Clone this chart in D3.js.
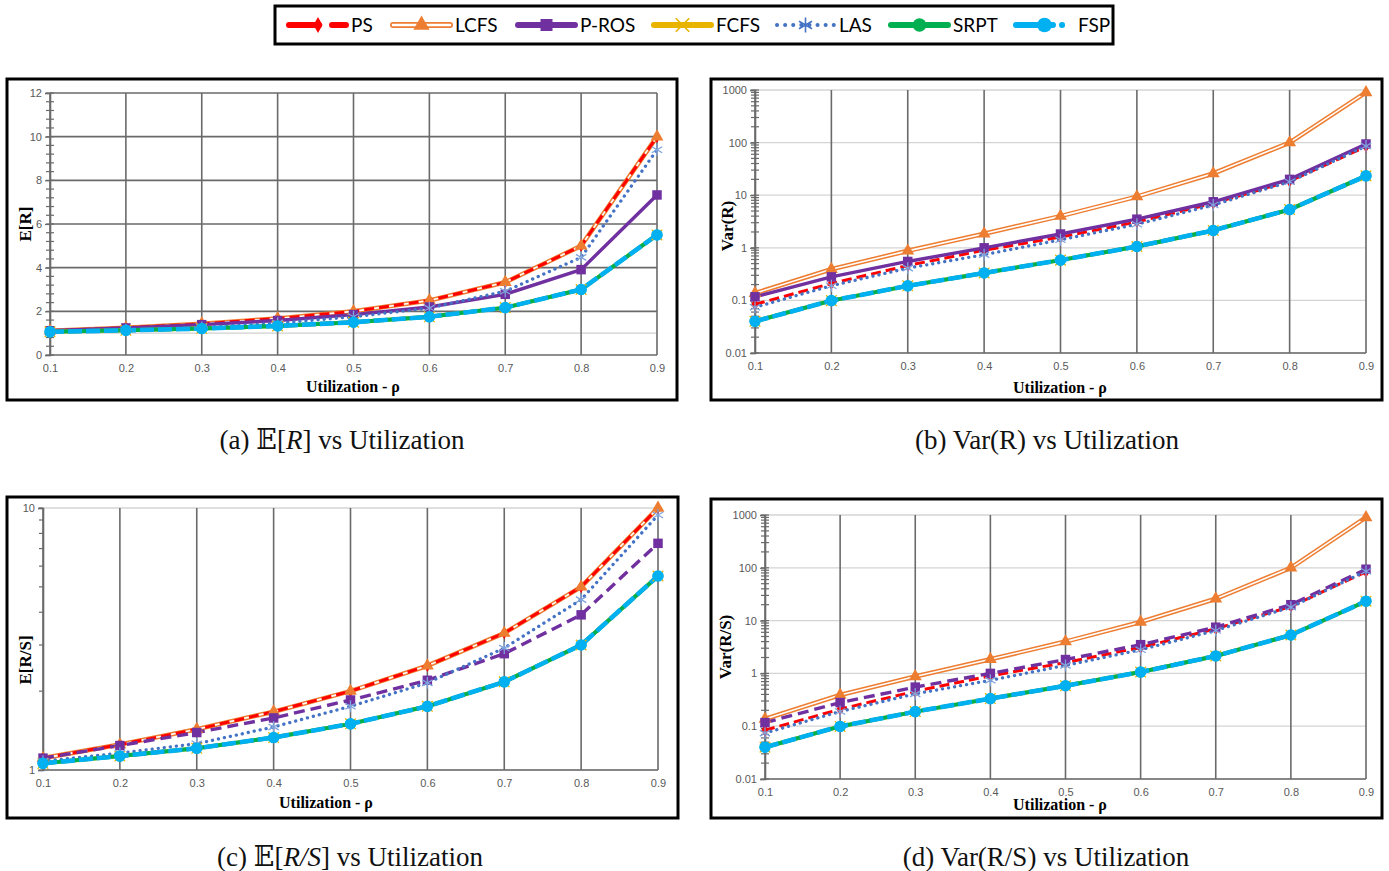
<!DOCTYPE html>
<html><head><meta charset="utf-8">
<script src="https://cdn.jsdelivr.net/npm/d3@7"></script>
<style>body{margin:0;background:#fff}</style>
</head><body>
<svg id="chart" width="1389" height="871"></svg>
<script>
// ---------------- DATA ----------------
const rho = [0.1, 0.2, 0.3, 0.4, 0.5, 0.6, 0.7, 0.8, 0.9];
const seriesNames = ["PS", "LCFS", "P-ROS", "FCFS", "LAS", "SRPT", "FSP"];

// Mean response time E[R] (= E[R/S])
const meanPS   = [1.11, 1.25, 1.43, 1.67, 2.0, 2.5, 3.33, 5.0, 10.0];
const meanLCFS = [1.11, 1.25, 1.43, 1.67, 2.0, 2.5, 3.33, 5.0, 10.0];
const meanPROS = [1.11, 1.24, 1.39, 1.58, 1.85, 2.2, 2.78, 3.91, 7.33];
const meanFCFS = [1.06, 1.13, 1.21, 1.33, 1.5, 1.75, 2.17, 3.0, 5.5];
const meanLAS  = [1.08, 1.16, 1.26, 1.46, 1.75, 2.15, 2.92, 4.47, 9.4];
const meanSRPT = [1.06, 1.13, 1.21, 1.33, 1.5, 1.75, 2.17, 3.0, 5.5];
const meanFSP  = [1.06, 1.13, 1.21, 1.33, 1.5, 1.75, 2.17, 3.0, 5.5];

// Variance Var(R) (= Var(R/S))
const varPS   = [0.084, 0.21, 0.46, 0.9, 1.6, 3.1, 7.0, 18.5, 84];
const varLCFS = [0.137, 0.39, 0.875, 1.85, 4.0, 9.4, 25.9, 100, 900];
const varPROS = [0.117, 0.28, 0.55, 1.0, 1.83, 3.5, 7.5, 20, 94];
const varFCFS = [0.04, 0.099, 0.189, 0.333, 0.583, 1.06, 2.14, 5.33, 23.3];
const varLAS  = [0.074, 0.19, 0.41, 0.74, 1.42, 2.8, 6.5, 18, 86];
const varSRPT = [0.04, 0.099, 0.189, 0.333, 0.583, 1.06, 2.14, 5.33, 23.3];
const varFSP  = [0.04, 0.099, 0.189, 0.333, 0.583, 1.06, 2.14, 5.33, 23.3];

const meanTicks = [0, 2, 4, 6, 8, 10, 12];
const varTicks = [0.01, 0.1, 1, 10, 100, 1000];
const ratioTicks = [1, 10];
const xTitle = "Utilization - ρ";

// ---------------- STYLE ----------------
const meanData = [meanPS, meanLCFS, meanPROS, meanFCFS, meanLAS, meanSRPT, meanFSP];
const varData  = [varPS, varLCFS, varPROS, varFCFS, varLAS, varSRPT, varFSP];

const sty = {
  "PS":    {color:"#FF0000", w:3,   dash:"10,5", sym:d3.symbolDiamond, size:45},
  "LCFS":  {color:"#ED7D31", w:4.6, double:true, sym:d3.symbolTriangle, size:72},
  "P-ROS": {color:"#7030A0", w:3.4, sym:d3.symbolSquare, size:90},
  "FCFS":  {color:"#E8B400", w:4,   sym:d3.symbolTimes, size:75, stroke:true},
  "LAS":   {color:"#4472C4", w:3.3, dash:"0.1,6", cap:"round", sym:d3.symbolAsterisk, size:100, stroke:true, mcolor:"#7FA3DC"},
  "SRPT":  {color:"#00B050", w:4,   sym:d3.symbolCircle, size:90},
  "FSP":   {color:"#00B0F0", w:4.6, dash:"14,4", sym:d3.symbolCircle, size:105}
};
const drawOrder = ["LCFS","PS","P-ROS","FCFS","LAS","SRPT","FSP"];
const markerOrder = ["PS","LCFS","P-ROS","FCFS","LAS","SRPT","FSP"];

const svg = d3.select("#chart");
svg.append("rect").attr("width",1389).attr("height",871).attr("fill","#fff");

const tickFont = "'Liberation Sans', Arial, sans-serif";
const serif = "'Liberation Serif', 'Times New Roman', serif";

const panels = [
  {key:"a", type:"lin", domain:[0,12], ticks:meanTicks, data:meanData, ylabel:"E[R]", prosDash:false,
   frame:[7,79,677,400], x0:50, x1:657, yTop:93, yBot:355, xt:[353,387], yl:[25,224]},
  {key:"b", type:"log", domain:[0.01,1000], ticks:varTicks, data:varData, ylabel:"Var(R)", prosDash:false,
   frame:[711,79,1382,400], x0:755, x1:1366, yTop:90, yBot:353, xt:[1060,388], yl:[727,226]},
  {key:"c", type:"log", domain:[1,10], ticks:ratioTicks, data:meanData, ylabel:"E[R/S]", prosDash:true, leftMinor:true,
   frame:[7,497,678,818], x0:43, x1:658, yTop:508, yBot:770, xt:[326,803], yl:[25,660]},
  {key:"d", type:"log", domain:[0.01,1000], ticks:varTicks, data:varData, ylabel:"Var(R/S)", prosDash:true,
   frame:[711,499,1382,818], x0:765, x1:1366, yTop:515, yBot:779, xt:[1060,805], yl:[725,647]}
];

function drawPanel(p){
  const g = svg.append("g");
  const [fx0,fy0,fx1,fy1] = p.frame;
  g.append("rect").attr("x",fx0).attr("y",fy0).attr("width",fx1-fx0).attr("height",fy1-fy0)
    .attr("fill","#fff").attr("stroke","#000").attr("stroke-width",3);
  const x = d3.scaleLinear().domain([rho[0], rho[rho.length-1]]).range([p.x0, p.x1]);
  const y = (p.type==="lin" ? d3.scaleLinear() : d3.scaleLog()).domain(p.domain).range([p.yBot, p.yTop]);

  // horizontal gridlines
  if (p.type==="lin"){
    g.append("line").attr("x1",p.x0).attr("x2",p.x1).attr("y1",y(1)).attr("y2",y(1))
      .attr("stroke","#d0d0d0").attr("stroke-width",1.2);
    p.ticks.forEach(t=>{ if(t>0) g.append("line").attr("x1",p.x0).attr("x2",p.x1).attr("y1",y(t)).attr("y2",y(t))
      .attr("stroke","#6a6a6a").attr("stroke-width",1.6); });
  } else {
    p.ticks.forEach(t=>{ g.append("line").attr("x1",p.x0).attr("x2",p.x1).attr("y1",y(t)).attr("y2",y(t))
      .attr("stroke","#d4d4d4").attr("stroke-width",1.3); });
  }
  // vertical gridlines
  rho.forEach(r=>{ g.append("line").attr("x1",x(r)).attr("x2",x(r)).attr("y1",p.yTop).attr("y2",p.yBot)
      .attr("stroke","#6a6a6a").attr("stroke-width",1.6); });
  // bottom axis line
  g.append("line").attr("x1",p.x0).attr("x2",p.x1).attr("y1",p.yBot).attr("y2",p.yBot)
    .attr("stroke","#6a6a6a").attr("stroke-width",1.6);

  // y axis with ticks
  let minor = [];
  if (p.type==="lin"){ for(let v=0; v<=12.001; v+=0.4) minor.push(+v.toFixed(1)); }
  else { for(let e=Math.log10(p.domain[0]); e<Math.log10(p.domain[1]); e++) for(let k=1;k<10;k++) minor.push(k*Math.pow(10,e)); minor.push(p.domain[1]); }
  const yAxis = d3.axisLeft(y).tickValues(p.ticks)
    .tickFormat(p.type==="lin" ? d3.format("d") : d3.format("~g")).tickSize(5).tickPadding(3);
  const ax = g.append("g").attr("transform",`translate(${p.x0},0)`).call(yAxis);
  ax.select(".domain").attr("stroke","#6a6a6a").attr("stroke-width",1.6);
  ax.selectAll(".tick line").attr("stroke","#6a6a6a").attr("stroke-width",1.2);
  ax.selectAll("text").attr("font-family",tickFont).attr("font-size",11).attr("fill","#595959");
  minor.forEach(v=>{
    g.append("line").attr("x1",p.x0-4).attr("x2",p.leftMinor? p.x0 : p.x0+4).attr("y1",y(v)).attr("y2",y(v))
      .attr("stroke","#6a6a6a").attr("stroke-width",1.2);
  });

  // x axis labels
  const xAxis = d3.axisBottom(x).tickValues(rho).tickFormat(d3.format(".1f")).tickSize(0).tickPadding(9);
  const xa = g.append("g").attr("transform",`translate(0,${p.yBot})`).call(xAxis);
  xa.select(".domain").remove();
  xa.selectAll("text").attr("font-family",tickFont).attr("font-size",11).attr("fill","#595959");

  // titles
  g.append("text").attr("x",p.xt[0]).attr("y",p.xt[1]+5).attr("text-anchor","middle")
    .attr("font-family",serif).attr("font-weight","bold").attr("font-size",16).text(xTitle);
  g.append("text").attr("transform",`translate(${p.yl[0]+6},${p.yl[1]}) rotate(-90)`).attr("text-anchor","middle")
    .attr("font-family",serif).attr("font-weight","bold").attr("font-size",17).text(p.ylabel);

  // series
  const line = d3.line().x((d,i)=>x(rho[i])).y(d=>y(d));
  drawOrder.forEach(name=>{
    const s = sty[name]; const vals = p.data[seriesNames.indexOf(name)];
    if (s.double){
      g.append("path").attr("d",line(vals)).attr("fill","none").attr("stroke",s.color).attr("stroke-width",s.w);
      g.append("path").attr("d",line(vals)).attr("fill","none").attr("stroke","#fff").attr("stroke-width",1.6);
    } else {
      let dash = s.dash || null;
      if (name==="P-ROS" && p.prosDash) dash = "11,6";
      g.append("path").attr("d",line(vals)).attr("fill","none").attr("stroke",s.color)
        .attr("stroke-width",s.w).attr("stroke-dasharray",dash).attr("stroke-linecap",s.cap||"butt")
        .attr("stroke-linejoin","round");
    }
  });
  markerOrder.forEach(name=>{
    const s = sty[name]; const vals = p.data[seriesNames.indexOf(name)];
    const sym = d3.symbol().type(s.sym).size(s.size);
    vals.forEach((v,i)=>{
      const m = g.append("path").attr("d",sym()).attr("transform",`translate(${x(rho[i])},${y(v)})`);
      if (s.stroke) m.attr("fill","none").attr("stroke",s.mcolor||s.color).attr("stroke-width",1.3);
      else m.attr("fill",s.color);
    });
  });
}
panels.forEach(drawPanel);

// captions
const captions = [
  {x:342, y:449, parts:[["(a) ",0],["𝔼",0],["[",0],["R",1],["] vs Utilization",0]]},
  {x:1047, y:449, parts:[["(b) Var(R) vs Utilization",0]]},
  {x:350, y:866, parts:[["(c) ",0],["𝔼",0],["[",0],["R/S",1],["] vs Utilization",0]]},
  {x:1046, y:866, parts:[["(d) Var(R/S) vs Utilization",0]]}
];
captions.forEach(c=>{
  const t = svg.append("text").attr("x",c.x).attr("y",c.y).attr("text-anchor","middle")
    .attr("font-family",serif).attr("font-size",27).attr("fill","#111");
  c.parts.forEach(([txt,it])=>{
    const ts = t.append("tspan").text(txt);
    if (it) ts.attr("font-style","italic");
    if (txt==="𝔼") ts.attr("font-family","'DejaVu Serif','DejaVu Sans',serif");
  });
});

// legend
const lg = svg.append("g");
lg.append("rect").attr("x",275).attr("y",6).attr("width",838).attr("height",38)
  .attr("fill","#fff").attr("stroke","#000").attr("stroke-width",3);
const legendStart = [289, 393, 518, 654, 777, 891, 1016];
const ly = 25;
seriesNames.forEach((name,i)=>{
  const s = sty[name]; const x0 = legendStart[i], x1 = x0+57, xm = (x0+x1)/2;
  if (s.double){
    lg.append("line").attr("x1",x0).attr("x2",x1).attr("y1",ly).attr("y2",ly).attr("stroke",s.color).attr("stroke-width",6).attr("stroke-linecap","round");
    lg.append("line").attr("x1",x0).attr("x2",x1).attr("y1",ly).attr("y2",ly).attr("stroke","#fff").attr("stroke-width",2.6).attr("stroke-linecap","round");
  } else {
    let dash = null;
    if (name==="PS") dash = "30,13,14,100";
    if (name==="LAS") dash = "0.1,8";
    if (name==="FSP") dash = "37,9,0.1,100";
    lg.append("line").attr("x1",x0).attr("x2",x1).attr("y1",ly).attr("y2",ly).attr("stroke",s.color)
      .attr("stroke-width",name==="LAS"?4:6).attr("stroke-dasharray",dash).attr("stroke-linecap","round");
  }
  const sym = d3.symbol().type(s.sym).size(s.size*1.6);
  const m = lg.append("path").attr("d",sym()).attr("transform",`translate(${name==="PS"?x0+29:xm},${ly})`);
  if (s.stroke) m.attr("fill","none").attr("stroke",name==="LAS"?"#4472C4":s.color).attr("stroke-width",1.6);
  else m.attr("fill",s.color);
  lg.append("text").attr("x",x1+5).attr("y",ly+7).attr("font-family","Lato,'Open Sans',sans-serif")
    .attr("font-size",19).attr("fill","#000").text(name);
});
</script>
</body></html>
